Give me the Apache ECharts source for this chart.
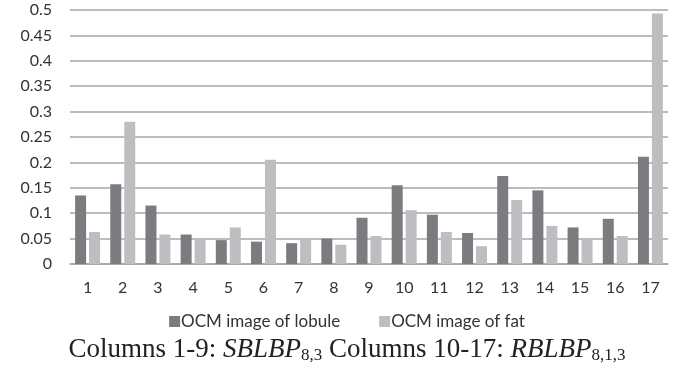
<!DOCTYPE html>
<html><head><meta charset="utf-8">
<script src="https://cdn.jsdelivr.net/npm/echarts@6/dist/echarts.min.js"></script>
<style>html,body{margin:0;padding:0;background:#fff;}#c{width:694px;height:369px;}</style>
</head><body><div id="c"></div>
<script>
var categories = ['1','2','3','4','5','6','7','8','9','10','11','12','13','14','15','16','17'];
var lobule = [0.135,0.157,0.115,0.058,0.047,0.044,0.041,0.050,0.091,0.155,0.097,0.061,0.173,0.145,0.072,0.089,0.211];
var fat = [0.063,0.280,0.058,0.051,0.072,0.205,0.050,0.038,0.055,0.106,0.063,0.035,0.126,0.075,0.050,0.055,0.493];
var yTicks = {min:0, max:0.5, interval:0.05};

var sans = 'Lato, "Open Sans", sans-serif';
var chart = echarts.init(document.getElementById('c'));
chart.setOption({
  animation:false,
  backgroundColor:'#fff',
  grid:{left:70,right:26,top:10,bottom:105},
  legend:{
    top:308, left:'center', itemWidth:11, itemHeight:11, itemGap:39,
    icon:'rect',
    textStyle:{fontFamily:sans,fontSize:17,color:'#333',padding:[0,0,0,-4]},
    data:['OCM image of lobule','OCM image of fat']
  },
  title:{
    text:'{n|Columns 1-9: }{i|SBLBP}{s|8,3}{n| Columns 10-17: }{i|RBLBP}{s|8,1,3}',
    left:'center', top:330,
    textStyle:{
      fontWeight:'normal',
      rich:{
        n:{fontFamily:'Liberation Serif',fontSize:27,color:'#222'},
        i:{fontFamily:'Liberation Serif',fontStyle:'italic',fontSize:27,color:'#222'},
        s:{fontFamily:'Liberation Serif',fontSize:17,color:'#222',verticalAlign:'bottom',padding:[12,0,0,0]}
      }
    }
  },
  xAxis:{
    type:'category', data:categories,
    axisLine:{lineStyle:{color:'#a6a6a6',width:1.5}},
    axisTick:{show:false},
    axisLabel:{margin:16,fontFamily:sans,fontSize:16,color:'#333'}
  },
  yAxis:{
    type:'value', min:yTicks.min, max:yTicks.max, interval:yTicks.interval,
    axisLine:{show:false}, axisTick:{show:false},
    splitLine:{lineStyle:{color:'#a6a6a6',width:1.5}},
    axisLabel:{margin:18,fontFamily:sans,fontSize:16,color:'#333'}
  },
  series:[
    {name:'OCM image of lobule',type:'bar',data:lobule,barWidth:11,barGap:'27%',itemStyle:{color:'#7b7c80'}},
    {name:'OCM image of fat',type:'bar',data:fat,barWidth:11,itemStyle:{color:'#bdbec2'}}
  ]
});
</script></body></html>
